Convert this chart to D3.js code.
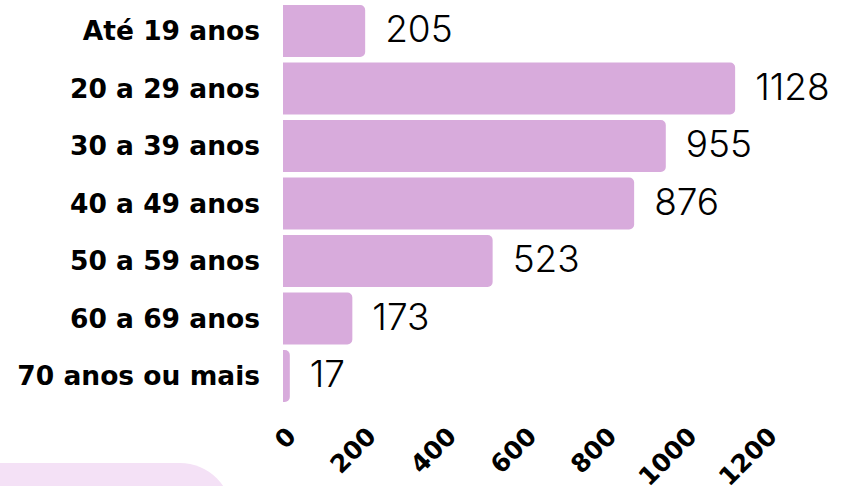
<!DOCTYPE html>
<html><head><meta charset="utf-8">
<script src="https://cdn.jsdelivr.net/npm/d3@7"></script>
<style>body{margin:0;background:#fff}svg{display:block}</style>
</head><body>
<svg id="c" width="846" height="486"></svg>
<script>
const categories = ["Até 19 anos","20 a 29 anos","30 a 39 anos","40 a 49 anos","50 a 59 anos","60 a 69 anos","70 anos ou mais"];
const values = [205,1128,955,876,523,173,17];
const ticks = [0,200,400,600,800,1000,1200];

const svg = d3.select("#c");
// decorative background shape bottom-left
svg.append("rect").attr("x",-60).attr("y",463).attr("width",292).attr("height",140).attr("rx",52).attr("fill","#f4e1f6");

const x = d3.scaleLinear().domain([0,1200]).range([283,764]);
const y = d3.scaleBand().domain(categories).range([5,402]).paddingInner(0.0957).paddingOuter(0);

function barPath(x0,y0,w,h,r){
  r = Math.min(r,w,h/2);
  return `M${x0},${y0}H${x0+w-r}A${r},${r} 0 0 1 ${x0+w},${y0+r}V${y0+h-r}A${r},${r} 0 0 1 ${x0+w-r},${y0+h}H${x0}Z`;
}
svg.selectAll("path.bar").data(values).join("path").attr("class","bar")
  .attr("d",(d,i)=>barPath(x(0),y(categories[i]),x(d)-x(0),y.bandwidth(),5))
  .attr("fill","#d8abdc");

svg.selectAll("text.cat").data(categories).join("text").attr("class","cat")
  .attr("x",260).attr("y",d=>y(d)+y.bandwidth()/2).attr("dy","0.35em")
  .attr("text-anchor","end").attr("font-family","DejaVu Sans").attr("font-weight",700)
  .attr("font-size",26.5).attr("fill","#000").text(d=>d);

svg.selectAll("text.val").data(values).join("text").attr("class","val")
  .attr("x",d=>x(d)+20).attr("y",(d,i)=>y(categories[i])+y.bandwidth()/2).attr("dy","0.3em")
  .attr("font-family","Inter").attr("font-weight",300).style("font-variant-numeric","proportional-nums")
  .attr("font-size",37).attr("fill","#000").text(d=>d);

const ax = svg.append("g").attr("transform","translate(0,438)")
  .call(d3.axisBottom(x).tickValues(ticks).tickSize(0).tickPadding(0).tickFormat(d3.format("d")));
ax.select(".domain").remove();
ax.selectAll("text").attr("text-anchor","end").attr("dy",0).attr("y",0)
  .attr("transform","translate(14,0) rotate(-45)")
  .attr("font-family","DejaVu Sans").attr("font-weight",700).attr("font-size",25).attr("fill","#000");
</script>
</body></html>
